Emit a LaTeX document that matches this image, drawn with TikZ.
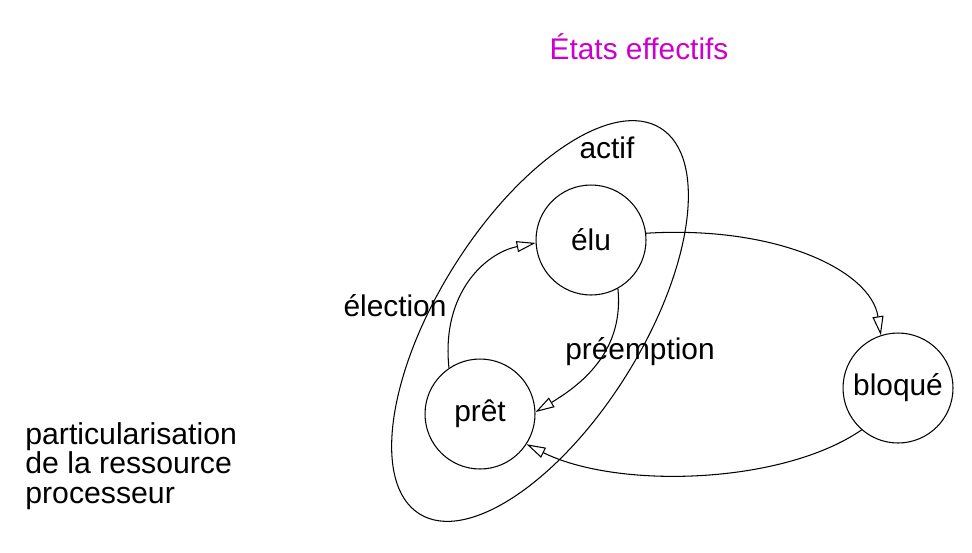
\documentclass[tikz,border=0pt]{standalone}
\usepackage{fontspec}
\setmainfont{Liberation Sans}
\usetikzlibrary{shapes.geometric,arrows.meta,positioning}
\definecolor{titlemagenta}{HTML}{CC00CC}

\begin{document}
\begin{tikzpicture}[x=0.02cm, y=-0.02cm,
  state/.style={draw, circle, minimum size=2.2cm, inner sep=0pt, line width=0.6pt, font=\fontsize{17}{17}\selectfont},
  group/.style={draw, ellipse, inner sep=0pt, line width=0.6pt},
  lbl/.style={font=\fontsize{17}{17}\selectfont},
  arr/.style={-{Triangle[open, length=0.38cm, width=0.22cm]}, line width=0.6pt}
]
  \useasboundingbox (0,0) rectangle (972,552);

  \node[lbl, text=titlemagenta] (titre) at (639,47) {États effectifs};

  \node[group, rotate=58, minimum width=9.1cm, minimum height=4.08cm] (actif) at (540,321) {};
  \node[lbl] (actiflbl) at (607,148) {actif};

  \node[state] (elu)    at (591,240) {élu};
  \node[state] (pret)   at (480,414) {prêt};
  \node[state] (bloque) at (898,388) {bloqué};

  \node[lbl] (election)   at (395,306) {élection};
  \node[lbl] (preemption) at (640,352) {préemption};

  \node[lbl, align=left, anchor=west, inner sep=0pt, font=\fontsize{17.2}{16.8}\selectfont] (partic) at (25,466)
    {particularisation\\de la ressource\\processeur};

  \draw[arr] (elu.7) .. controls +(130,-8) and +(-10,-65) .. (bloque.108);
  \draw[arr] (elu.-61) .. controls +(6,60) and +(50,-30) .. (pret.2);
  \draw[arr] (pret.124) .. controls +(-8,-75) and +(-50,10) .. (elu.183);
  \draw[arr] (bloque.229) .. controls +(-80,55) and +(90,45) .. (pret.-33);
\end{tikzpicture}
\end{document}
